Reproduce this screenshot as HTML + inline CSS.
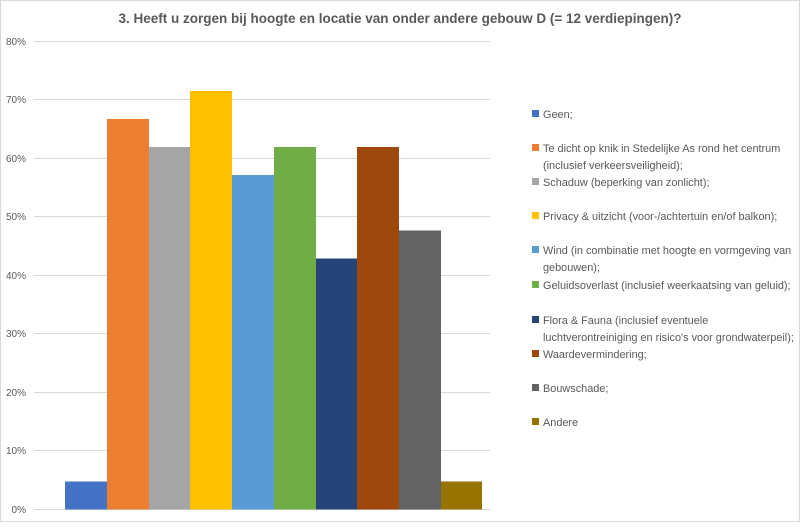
<!DOCTYPE html>
<html><head><meta charset="utf-8"><style>
body{margin:0;background:#fff}
svg text{font-family:"Liberation Sans",sans-serif;fill:#595959}
</style></head><body>
<svg width="800" height="522" xmlns="http://www.w3.org/2000/svg">
<rect x="0.5" y="0.5" width="799" height="521" fill="#fff" stroke="#d9d9d9"/>
<text x="400" y="23" text-anchor="middle" font-size="13.5" font-weight="bold">3. Heeft u zorgen bij hoogte en locatie van onder andere gebouw D (= 12 verdiepingen)?</text>
<g stroke="#d9d9d9" stroke-width="1">
<line x1="34" x2="490" y1="41.5" y2="41.5"/><line x1="34" x2="490" y1="99.5" y2="99.5"/>
<line x1="34" x2="490" y1="158.5" y2="158.5"/><line x1="34" x2="490" y1="216.5" y2="216.5"/>
<line x1="34" x2="490" y1="275.5" y2="275.5"/><line x1="34" x2="490" y1="333.5" y2="333.5"/>
<line x1="34" x2="490" y1="392.5" y2="392.5"/><line x1="34" x2="490" y1="450.5" y2="450.5"/>
<line x1="34" x2="490" y1="509.5" y2="509.5"/>
</g>
<g font-size="10" text-anchor="end">
<text x="26" y="45">80%</text><text x="26" y="103">70%</text><text x="26" y="162">60%</text>
<text x="26" y="220">50%</text><text x="26" y="279">40%</text><text x="26" y="337">30%</text>
<text x="26" y="396">20%</text><text x="26" y="454">10%</text><text x="26" y="513">0%</text>
</g>
<rect x="65" y="481.5" width="42" height="28" fill="#4472c4"/>
<rect x="107" y="119" width="42" height="390.5" fill="#ed7d31"/>
<rect x="149" y="147" width="41" height="362.5" fill="#a5a5a5"/>
<rect x="190" y="91" width="42" height="418.5" fill="#ffc000"/>
<rect x="232" y="175" width="42" height="334.5" fill="#5b9bd5"/>
<rect x="274" y="147" width="42" height="362.5" fill="#70ad47"/>
<rect x="316" y="258.5" width="41" height="251" fill="#264478"/>
<rect x="357" y="147" width="42" height="362.5" fill="#9e480e"/>
<rect x="399" y="230.5" width="42" height="279" fill="#636363"/>
<rect x="441" y="481.5" width="41" height="28" fill="#997300"/>
<g font-size="10.9">
<rect x="532" y="110" width="7" height="7" fill="#4472c4"/><text x="543" y="118">Geen;</text>
<rect x="532" y="144" width="7" height="7" fill="#ed7d31"/><text x="543" y="152">Te dicht op knik in Stedelijke As rond het centrum</text><text x="543" y="169">(inclusief verkeersveiligheid);</text>
<rect x="532" y="178" width="7" height="7" fill="#a5a5a5"/><text x="543" y="186">Schaduw (beperking van zonlicht);</text>
<rect x="532" y="212" width="7" height="7" fill="#ffc000"/><text x="543" y="220">Privacy &amp; uitzicht (voor-/achtertuin en/of balkon);</text>
<rect x="532" y="246" width="7" height="7" fill="#5b9bd5"/><text x="543" y="254">Wind (in combinatie met hoogte en vormgeving van</text><text x="543" y="271">gebouwen);</text>
<rect x="532" y="281" width="7" height="7" fill="#70ad47"/><text x="543" y="289">Geluidsoverlast (inclusief weerkaatsing van geluid);</text>
<rect x="532" y="316" width="7" height="7" fill="#264478"/><text x="543" y="324">Flora &amp; Fauna (inclusief eventuele</text><text x="543" y="341">luchtverontreiniging en risico's voor grondwaterpeil);</text>
<rect x="532" y="350" width="7" height="7" fill="#9e480e"/><text x="543" y="358">Waardevermindering;</text>
<rect x="532" y="384" width="7" height="7" fill="#636363"/><text x="543" y="392">Bouwschade;</text>
<rect x="532" y="418" width="7" height="7" fill="#997300"/><text x="543" y="426">Andere</text>
</g>
</svg>
</body></html>
